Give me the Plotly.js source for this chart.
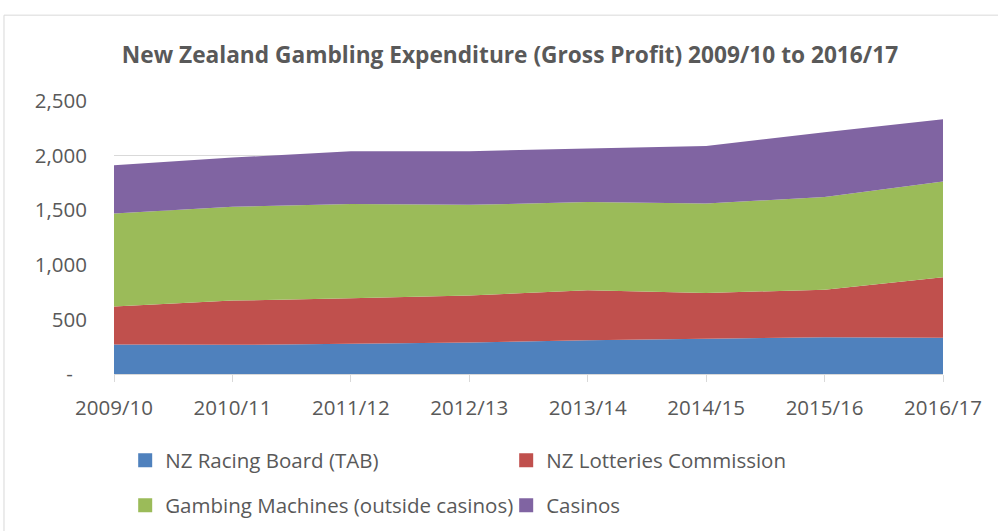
<!DOCTYPE html>
<html>
<head>
<meta charset="utf-8">
<script src="https://cdn.plot.ly/plotly-3.0.1.min.js"></script>
<style>html,body{margin:0;padding:0;background:#fff;}#chart{width:998px;height:531px;}</style>
</head>
<body>
<div id="chart"></div>
<script>
const years = ["2009/10","2010/11","2011/12","2012/13","2013/14","2014/15","2015/16","2016/17"];
const tab = [270, 267, 276, 288, 309, 324, 336, 331];
const lotteries = [347, 405, 417, 432, 457, 418, 436, 554];
const gamingMachines = [853, 859, 863, 829, 808, 819, 850, 877];
const casinos = [442, 451, 484, 491, 490, 527, 591, 570];
const yTickVals = [0, 500, 1000, 1500, 2000, 2500];
const yTickText = ["-\u00a0\u00a0\u2009", "500", "1,000", "1,500", "2,000", "2,500"];

const seriesNames = ["NZ Racing Board (TAB)", "NZ Lotteries Commission", "Gambing Machines (outside casinos)", "Casinos"];
const seriesData = [tab, lotteries, gamingMachines, casinos];
const colors = ["#4F81BD", "#C0504D", "#9BBB59", "#8064A2"];
const legendIds = ["legend", "legend", "legend2", "legend2"];

const traces = [];
seriesData.forEach((d, i) => {
  traces.push({
    x: years, y: d, type: "scatter", mode: "lines", stackgroup: "one",
    line: {width: 0, color: colors[i]}, fillcolor: colors[i],
    showlegend: false, hoverinfo: "skip", name: seriesNames[i]
  });
});
seriesData.forEach((d, i) => {
  traces.push({
    x: [null], y: [null], type: "scatter", mode: "markers",
    marker: {symbol: "square", size: 14, color: colors[i]},
    name: seriesNames[i], legend: legendIds[i], showlegend: true
  });
});

const font = {family: "Open Sans, sans-serif", color: "#595959", size: 20.5};
const legendBase = {orientation: "h", xref: "paper", x: 0.0135, xanchor: "left",
  yref: "container", yanchor: "middle", traceorder: "normal",
  entrywidth: 336, entrywidthmode: "pixels", font: font, itemwidth: 30,
  bgcolor: "rgba(0,0,0,0)", borderwidth: 0};
const layout = {
  width: 998, height: 531,
  margin: {l: 114, r: 55, t: 101, b: 156.5, autoexpand: false},
  paper_bgcolor: "#fff", plot_bgcolor: "#fff",
  font: font,
  title: {text: "<b>New Zealand Gambling Expenditure (Gross Profit) 2009/10 to 2016/17</b>",
          font: {family: "Open Sans, sans-serif", size: 22.7, color: "#595959"},
          x: 0.511, xanchor: "center", y: 0.897, yanchor: "middle"},
  xaxis: {type: "category", range: [0, 7], showgrid: false, zeroline: false,
          showline: true, linecolor: "#d9d9d9", linewidth: 1,
          ticks: "outside", ticklen: 7, tickcolor: "#d9d9d9",
          tickfont: font, ticklabelstandoff: 8, fixedrange: true},
  yaxis: {range: [0, 2500], tickvals: yTickVals, ticktext: yTickText,
          showgrid: true, gridcolor: "#d9d9d9", gridwidth: 1, zeroline: false,
          showline: false, ticks: "", tickfont: font, ticklabelstandoff: 26, fixedrange: true},
  legend: Object.assign({}, legendBase, {y: 0.1328}),
  legend2: Object.assign({}, legendBase, {y: 0.048}),
  shapes: [{type: "rect", xref: "paper", yref: "paper",
            x0: -0.1327, x1: 1.2, y0: -1.0, y1: 1.3144,
            line: {color: "#d9d9d9", width: 1}, fillcolor: "rgba(0,0,0,0)", layer: "below"}],
  showlegend: true
};
Plotly.newPlot("chart", traces, layout, {displayModeBar: false, staticPlot: true});
</script>
</body>
</html>
